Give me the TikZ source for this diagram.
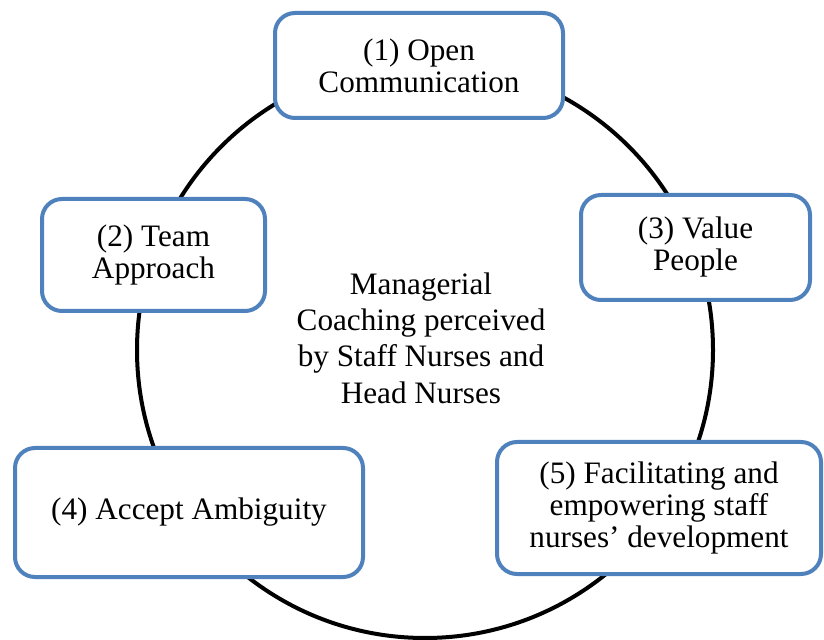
\documentclass[tikz,border=0pt]{standalone}
\usepackage{fontspec}
\setmainfont{LiberationSerif}[
  Extension=.ttf,
  UprightFont=*-Regular,
  BoldFont=*-Bold,
  ItalicFont=*-Italic]
\usepackage{tikz}
\usetikzlibrary{positioning}
\definecolor{frameblue}{HTML}{4F81BD}
\tikzset{
  factor/.style={draw=frameblue,line width=2pt,rounded corners=10pt,fill=white,align=center,
    font=\rmfamily\fontsize{15.6}{16}\selectfont,inner sep=4pt},
  ring/.style={draw=black,line width=2pt},
  core/.style={align=center,font=\rmfamily\fontsize{15.6}{18.2}\selectfont},
}

\begin{document}
\begin{tikzpicture}[x=0.5pt,y=-0.5pt]
  \useasboundingbox (0,0) rectangle (824,640);
  \coordinate (hub) at (425,350);
  \draw[ring] (hub) circle (144pt);
  \node[factor,minimum width=144pt,minimum height=52.5pt] (open) at (419,65.5) {(1) Open\\Communication};
  \node[factor,minimum width=111.5pt,minimum height=56pt] (team) at (153.5,255) {(2) Team\\Approach};
  \node[factor,minimum width=114.5pt,minimum height=52.5pt] (value) at (695.5,247.5) {(3) Value\\People};
  \node[factor,minimum width=174pt,minimum height=64.5pt] (ambig) at (189,512.5) {(4) Accept Ambiguity};
  \node[factor,minimum width=162pt,minimum height=66pt] (empower) at (659,508) {(5) Facilitating and\\empowering staff\\nurses' development};
  \node[core] (coaching) at (421,338) {Managerial\\Coaching perceived\\by Staff Nurses and\\Head Nurses};
\end{tikzpicture}
\end{document}
